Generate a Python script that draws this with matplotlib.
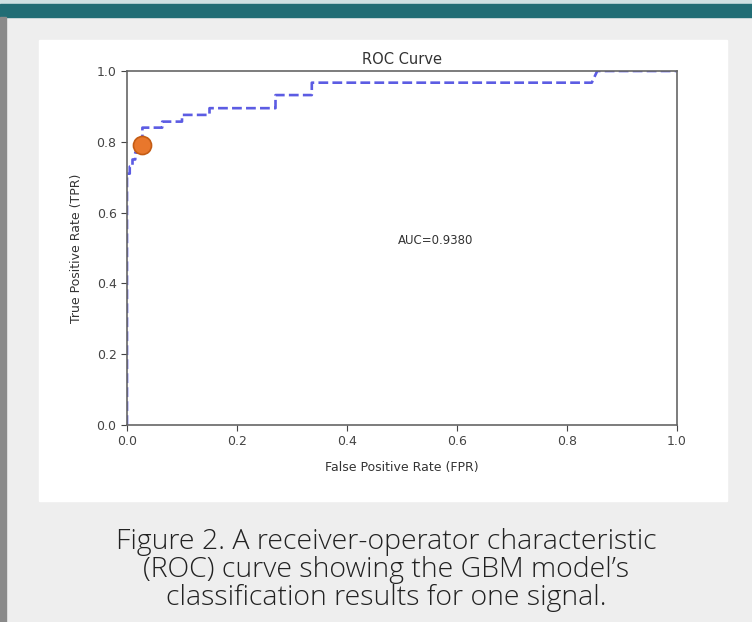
import numpy as np
import matplotlib.pyplot as plt
from matplotlib.patches import Rectangle

# Datos de la curva ROC
fpr = [0.0, 0.0, 0.0, 0.005, 0.005, 0.010, 0.010, 0.015, 0.015, 0.020, 0.020,
       0.028, 0.028, 0.064, 0.064, 0.100, 0.100, 0.150, 0.150, 0.270, 0.270,
       0.336, 0.336, 0.845, 0.855, 1.0]
tpr = [0.0, 0.33, 0.71, 0.71, 0.73, 0.73, 0.75, 0.75, 0.77, 0.77, 0.79,
       0.80, 0.84, 0.84, 0.857, 0.857, 0.876, 0.876, 0.895, 0.895, 0.932,
       0.932, 0.967, 0.967, 1.0, 1.0]
punto_fpr = [0.027]
punto_tpr = [0.79]
auc = 0.9380
ticks = [0.0, 0.2, 0.4, 0.6, 0.8, 1.0]
caption = ("Figure 2. A receiver-operator characteristic\n"
           "(ROC) curve showing the GBM model\u2019s\n"
           "classification results for one signal.")

W, H = 752, 622
fig = plt.figure(figsize=(W / 100, H / 100), dpi=100)
fig.patch.set_facecolor('#eeeeee')

# marco de la página
fig.patches.append(Rectangle((0, 1 - 4 / H), 1, 4 / H, transform=fig.transFigure,
                             color='#cfe1e3', zorder=-2))
fig.patches.append(Rectangle((0, 1 - 17 / H), 1, 13 / H, transform=fig.transFigure,
                             color='#216d75', zorder=-2))
fig.patches.append(Rectangle((0, 0), 6 / W, 1 - 17 / H, transform=fig.transFigure,
                             color='#8a8a8a', zorder=-2))
fig.patches.append(Rectangle((39 / W, 1 - 501 / H), 688 / W, 461 / H,
                             transform=fig.transFigure, color='white', zorder=-2))

# ejes
ax = fig.add_axes([127 / W, 1 - 425 / H, 550 / W, 354 / H])
ax.set_zorder(3)
ax.plot(fpr, tpr, '--', color='#4a4ae0', lw=1.9, alpha=0.9)
ax.plot(punto_fpr, punto_tpr, 'o', ms=13, color='#e8772c', mec='#c45c14', mew=1.2,
        clip_on=False, zorder=5)
ax.text(0.492, 0.52, f"AUC={auc:.4f}", fontsize=8.5, color='#333333', va='center')
ax.set_xlim(0, 1)
ax.set_ylim(0, 1)
ax.set_xticks(ticks)
ax.set_yticks(ticks)
ax.set_title("ROC Curve", fontsize=10.5, color='#333333', pad=5)
ax.set_xlabel("False Positive Rate (FPR)", fontsize=9, color='#333333', labelpad=9)
ax.set_ylabel("True Positive Rate (TPR)", fontsize=9, color='#333333', labelpad=10)
ax.tick_params(labelsize=9, colors='#444444', length=4)
for s in ax.spines.values():
    s.set_color('#666666')
    s.set_linewidth(1.2)

# pie de figura
fig.text(386 / W, 1 - 570 / H, caption, ha='center', va='center', fontsize=20.5,
         family='Open Sans', weight='light', color='#222222', linespacing=1.0)

fig.savefig('out.png', dpi=100, facecolor=fig.get_facecolor())
